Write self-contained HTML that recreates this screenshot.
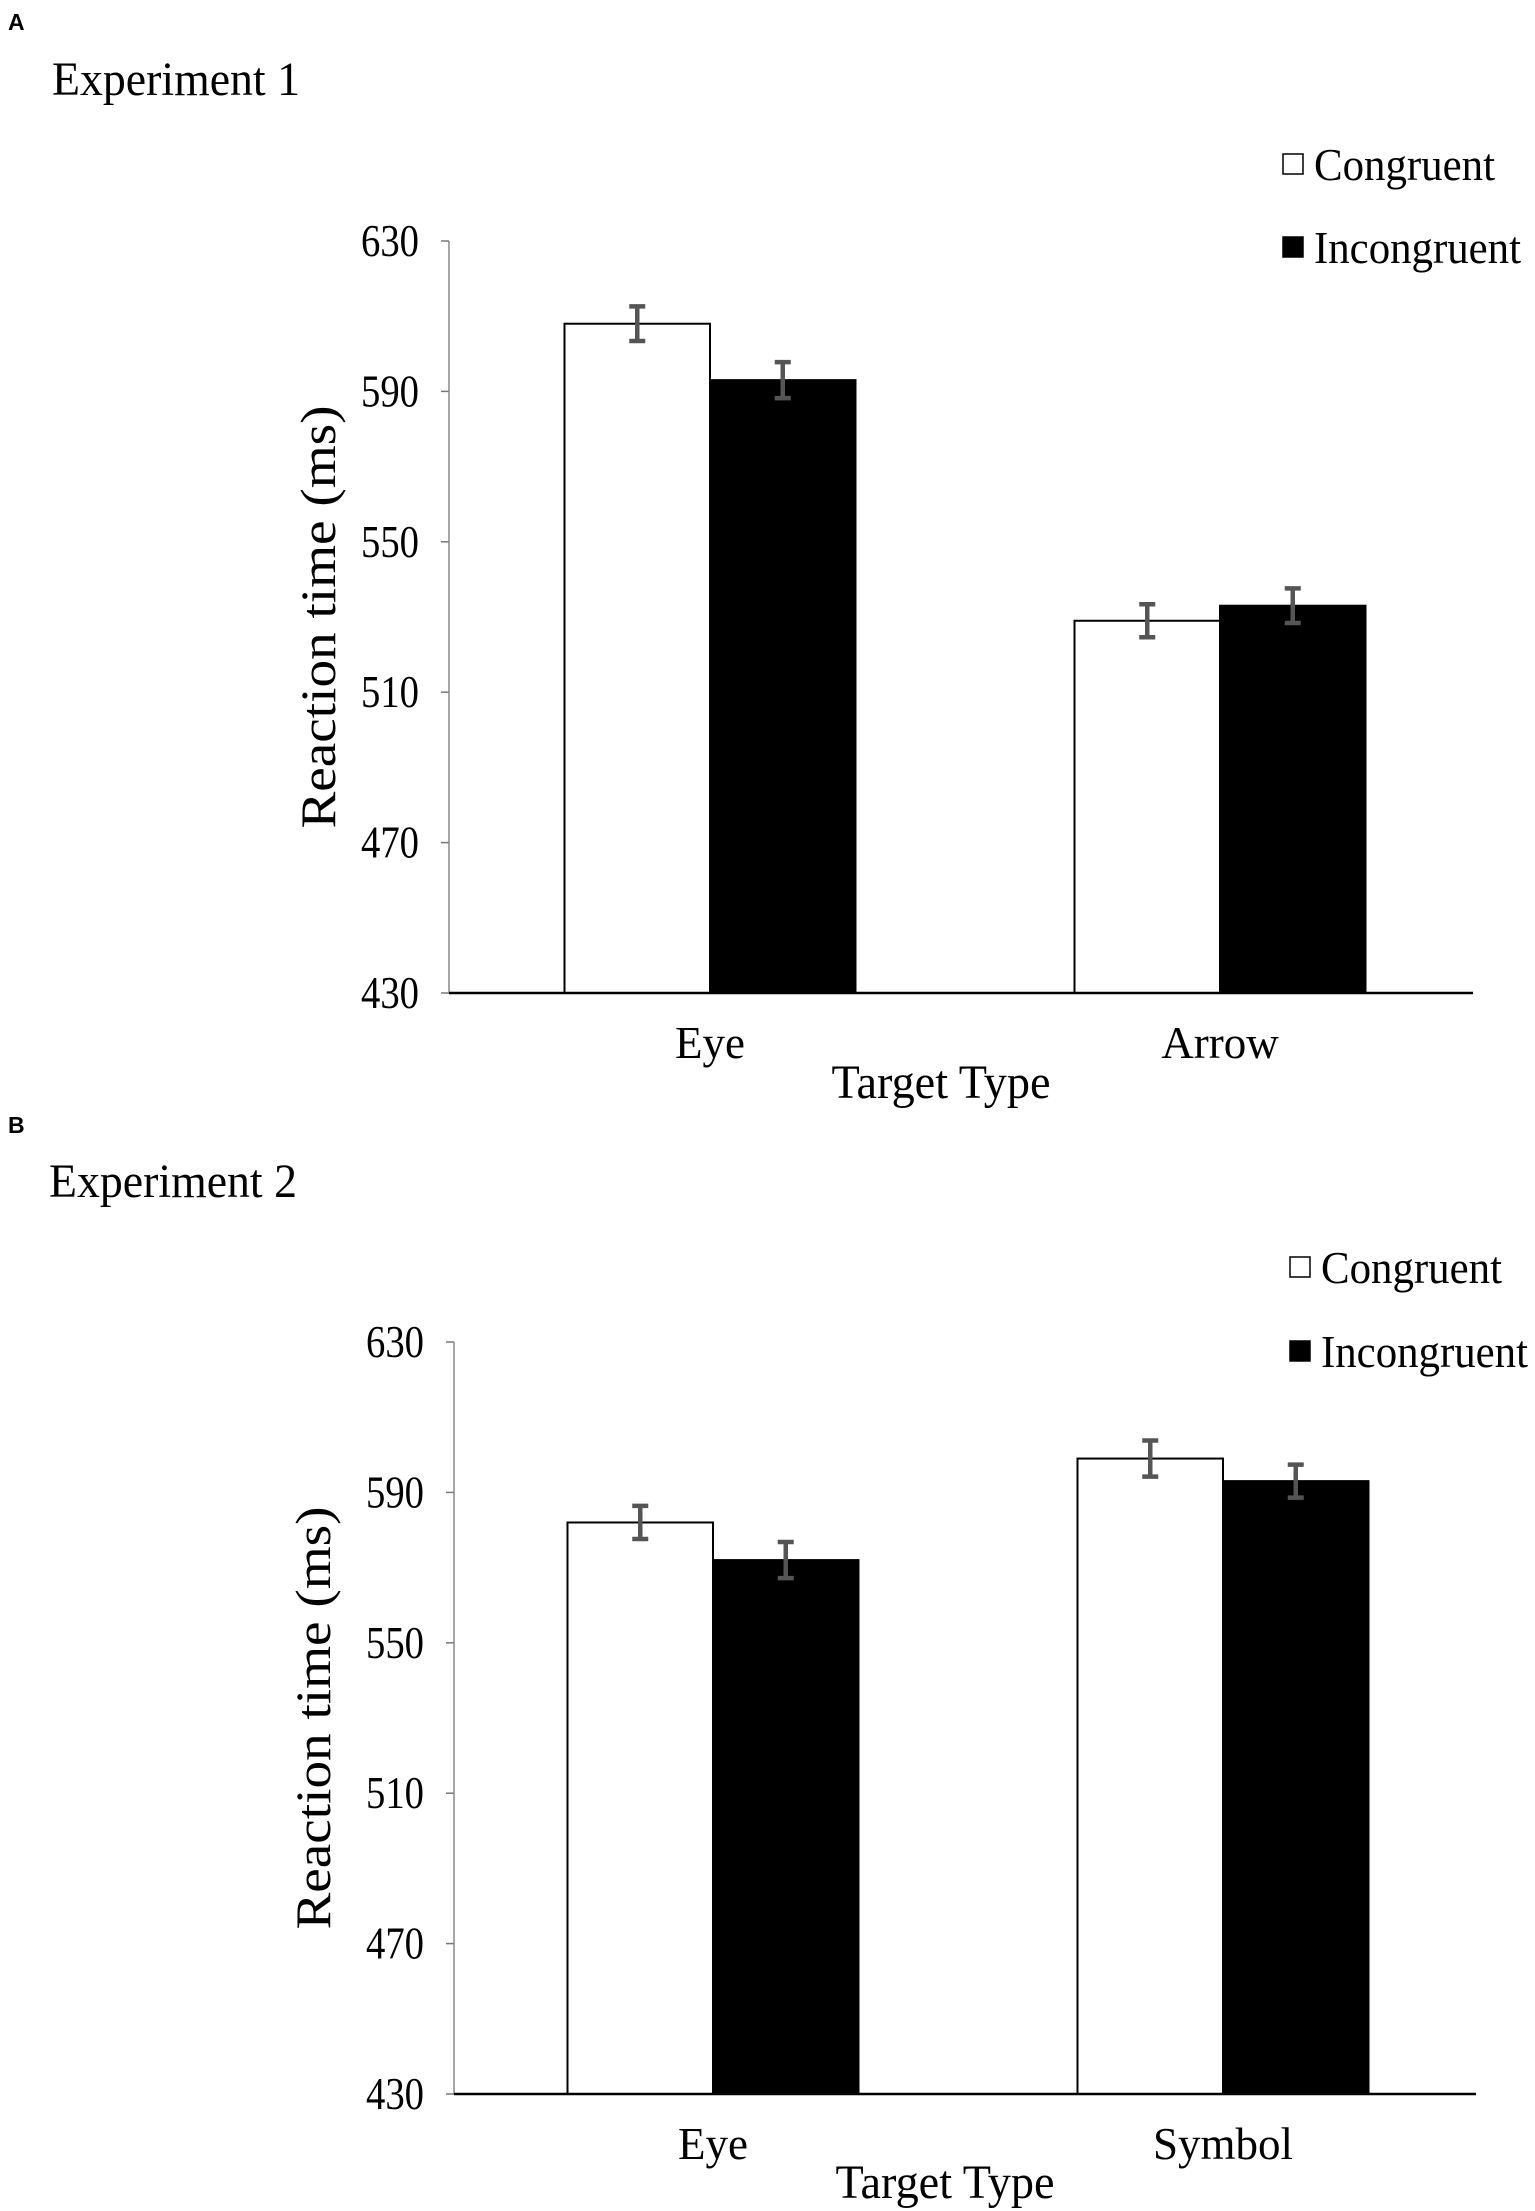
<!DOCTYPE html>
<html><head><meta charset="utf-8"><style>
html,body{margin:0;padding:0;background:#fff}
svg{display:block}
text{font-family:"Liberation Serif",serif;fill:#000}
</style></head><body>
<svg id="fig" width="1535" height="2211" viewBox="0 0 1535 2211"></svg>
<script>
const categoriesA = ["Eye","Arrow"];
const congruentA = [608, 529];
const incongruentA = [593, 533];
const errA_cong = [4.6, 4.4];
const errA_incong = [4.8, 4.6];
const categoriesB = ["Eye","Symbol"];
const congruentB = [582, 599];
const incongruentB = [572, 593];
const errB_cong = [4.4, 4.8];
const errB_incong = [4.8, 4.4];
const yTicks = [430, 470, 510, 550, 590, 630];
const seriesNames = ["Congruent","Incongruent"];

const NS="http://www.w3.org/2000/svg";
const svg=document.getElementById('fig');
function mk(tag,attrs,parent,txt){const e=document.createElementNS(NS,tag);for(const k in attrs)e.setAttribute(k,attrs[k]);if(txt!==undefined)e.textContent=txt;(parent||svg).appendChild(e);return e;}
const LA='spacingAndGlyphs';

function panel(cfg){
  const g=mk('g',{});
  
  
  const y=v=>cfg.y0+(v-430)/(630-430)*(cfg.y1-cfg.y0);
  const t=mk('text',{x:8,y:cfg.letterY,'font-size':23,'font-weight':'bold',style:'font-family:"Liberation Sans",sans-serif'},g,cfg.letter);
  
  
  const ti=mk('text',{x:cfg.titleX,y:cfg.titleY,'font-size':48,textLength:248,lengthAdjust:LA},g,cfg.title);
  
  
  yTicks.forEach(v=>{
    const tl=mk('text',{x:cfg.ax0-30,y:y(v)+15,'font-size':45,'text-anchor':'end',textLength:58,lengthAdjust:LA},g,String(v));
    
    
    const tk=mk('line',{x1:cfg.ax0-8,x2:cfg.ax0,y1:y(v),y2:y(v),stroke:'#777','stroke-width':1.5},g);
    
    
  });
  const ya=mk('line',{x1:cfg.ax0,x2:cfg.ax0,y1:y(630),y2:y(430),stroke:'#888','stroke-width':1.5},g);
  
  
  const yt=mk('text',{x:0,y:0,'font-size':50,'text-anchor':'middle',textLength:423,lengthAdjust:LA,transform:`translate(${cfg.ytX},${(cfg.y0+cfg.y1)/2}) rotate(-90)`},g,'Reaction time (ms)');
  
  
  const bw=145.5;
  cfg.cats.forEach((c,i)=>{
    const cx=cfg.cx[i];
    [[cfg.cong,cfg.ec,'#fff',cx-bw,'congruent'],[cfg.inc,cfg.ei,'#000',cx,'incongruent']].forEach(([vals,errs,fill,x,nm])=>{
      const v=vals[i];
      const r=mk('rect',{x:x,y:y(v),width:bw,height:y(430)-y(v),fill:fill,stroke:'#000','stroke-width':2},g);
      
      
      const mx=x+bw/2,e=errs[i];
      const eb=mk('path',{d:`M${mx-8},${y(v+e)}H${mx+8}M${mx},${y(v+e)}V${y(v-e)}M${mx-8},${y(v-e)}H${mx+8}`,stroke:'#555','stroke-width':4.5,fill:'none'},g);
      
      
    });
    const cl=mk('text',{x:cx,y:cfg.catY,'font-size':45,'text-anchor':'middle'},g,c);
    
    
  });
  const xa=mk('line',{x1:cfg.ax0,x2:cfg.ax1,y1:y(430),y2:y(430),stroke:'#000','stroke-width':2.5},g);
  
  
  const xt=mk('text',{x:(cfg.ax0+cfg.ax1)/2-20,y:cfg.xtY,'font-size':48,'text-anchor':'middle',textLength:219,lengthAdjust:LA},g,'Target Type');
  
  
  const lens=[181,207];
  seriesNames.forEach((s,k)=>{
    const ly=cfg.legY[k];
    const sq=mk('rect',{x:cfg.legX,y:ly-11,width:20,height:20,fill:k?'#000':'#fff',stroke:'#000','stroke-width':1.5},g);
    
    
    const lt=mk('text',{x:cfg.legX+31,y:ly+15,'font-size':46,textLength:lens[k],lengthAdjust:LA},g,s);
    
    
  });
}
panel({id:'a',letter:'A',letterY:30,title:'Experiment 1',titleX:52,titleY:95,y0:993,y1:241,ax0:449,ax1:1473,
  cats:categoriesA,cong:congruentA,inc:incongruentA,ec:errA_cong,ei:errA_incong,cx:[710,1220],ytX:335,catY:1058,xtY:1098,legX:1283,legY:[165,248]});
panel({id:'b',letter:'B',letterY:1133,title:'Experiment 2',titleX:49,titleY:1197,y0:2094,y1:1342,ax0:454,ax1:1476,
  cats:categoriesB,cong:congruentB,inc:incongruentB,ec:errB_cong,ei:errB_incong,cx:[713,1223],ytX:330,catY:2159,xtY:2198,legX:1290,legY:[1268,1352]});
</script>
</body></html>
